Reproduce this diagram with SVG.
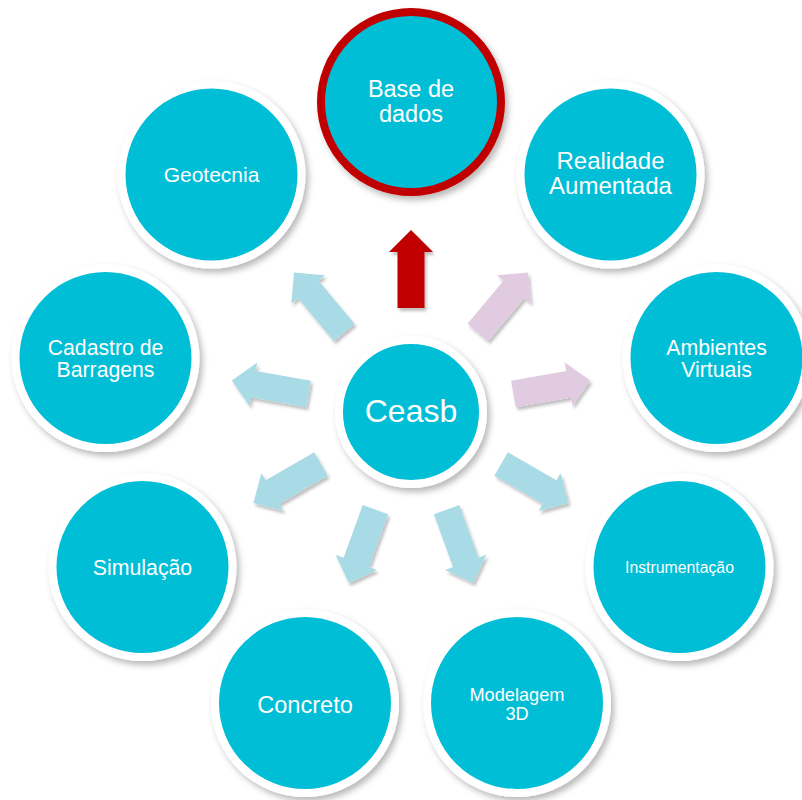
<svg xmlns="http://www.w3.org/2000/svg" xmlns:xlink="http://www.w3.org/1999/xlink" width="802" height="800" viewBox="0 0 802 800">
  <style>
    .node { fill: #02BED6; stroke: #FFFFFF; stroke-width: 8; }
    .node-hl { fill: #02BED6; stroke: #C00000; stroke-width: 8; }
    .label { font-family: "Liberation Sans", Arial, sans-serif; fill: #FFFFFF; text-anchor: middle; }
    .arr-blue { fill: #A9DBE6; }
    .arr-pink { fill: #E0CBE1; }
    .arr-red { fill: #C00000; }
  </style>
  <defs>
    <filter id="shadow" x="-20%" y="-20%" width="150%" height="150%">
      <feDropShadow dx="3" dy="4" stdDeviation="3" flood-color="#000000" flood-opacity="0.28"/>
    </filter>
    <filter id="arrShadow" x="-30%" y="-30%" width="160%" height="160%">
      <feDropShadow dx="2" dy="3" stdDeviation="1.6" flood-color="#000000" flood-opacity="0.25"/>
    </filter>
    <!-- block arrow pointing along +x, starting 104px from the hub centre -->
    <polygon id="arrow" points="104,-13.5 160,-13.5 160,-22 182,0 160,22 160,13.5 104,13.5"/>
  </defs>

  <rect width="802" height="800" fill="#FFFFFF"/>

  <!-- connectors: arrows radiating from the hub -->
  <g id="connectors">
    <g filter="url(#arrShadow)"><use xlink:href="#arrow" class="arr-red" transform="translate(411 412) rotate(-90)"/></g>
    <g filter="url(#arrShadow)"><use xlink:href="#arrow" class="arr-pink" transform="translate(411 412) rotate(-50)"/></g>
    <g filter="url(#arrShadow)"><use xlink:href="#arrow" class="arr-pink" transform="translate(411 412) rotate(-10)"/></g>
    <g filter="url(#arrShadow)"><use xlink:href="#arrow" class="arr-blue" transform="translate(411 412) rotate(30)"/></g>
    <g filter="url(#arrShadow)"><use xlink:href="#arrow" class="arr-blue" transform="translate(411 412) rotate(70)"/></g>
    <g filter="url(#arrShadow)"><use xlink:href="#arrow" class="arr-blue" transform="translate(411 412) rotate(110)"/></g>
    <g filter="url(#arrShadow)"><use xlink:href="#arrow" class="arr-blue" transform="translate(411 412) rotate(150)"/></g>
    <g filter="url(#arrShadow)"><use xlink:href="#arrow" class="arr-blue" transform="translate(411 412) rotate(190)"/></g>
    <g filter="url(#arrShadow)"><use xlink:href="#arrow" class="arr-blue" transform="translate(411 412) rotate(230)"/></g>
  </g>

  <!-- hub -->
  <g id="node-ceasb">
    <circle class="node" cx="411" cy="412" r="72" filter="url(#shadow)"/>
    <text class="label" x="411" y="422" font-size="32">Ceasb</text>
  </g>

  <!-- outer nodes -->
  <g id="node-base-de-dados">
    <circle class="node-hl" cx="411" cy="102" r="90" filter="url(#shadow)"/>
    <text class="label" x="411" y="97" font-size="23.5">Base de</text>
    <text class="label" x="411" y="122" font-size="23.5">dados</text>
  </g>

  <g id="node-realidade-aumentada">
    <circle class="node" cx="610.5" cy="174.5" r="90" filter="url(#shadow)"/>
    <text class="label" x="610.5" y="169" font-size="24">Realidade</text>
    <text class="label" x="610.5" y="194" font-size="24">Aumentada</text>
  </g>

  <g id="node-ambientes-virtuais">
    <circle class="node" cx="716.5" cy="358" r="90" filter="url(#shadow)"/>
    <text class="label" x="716.5" y="354.5" font-size="21.3">Ambientes</text>
    <text class="label" x="716.5" y="377" font-size="21.3">Virtuais</text>
  </g>

  <g id="node-instrumentacao">
    <circle class="node" cx="679.5" cy="567" r="90" filter="url(#shadow)"/>
    <text class="label" x="679.5" y="572.5" font-size="15.8">Instrumentação</text>
  </g>

  <g id="node-modelagem-3d">
    <circle class="node" cx="517" cy="703" r="90" filter="url(#shadow)"/>
    <text class="label" x="517" y="701" font-size="18.2">Modelagem</text>
    <text class="label" x="517" y="720" font-size="18.2">3D</text>
  </g>

  <g id="node-concreto">
    <circle class="node" cx="305" cy="703" r="90" filter="url(#shadow)"/>
    <text class="label" x="305" y="712.5" font-size="23.6">Concreto</text>
  </g>

  <g id="node-simulacao">
    <circle class="node" cx="142.5" cy="567" r="90" filter="url(#shadow)"/>
    <text class="label" x="142.5" y="574.5" font-size="21.3">Simulação</text>
  </g>

  <g id="node-cadastro-de-barragens">
    <circle class="node" cx="105.5" cy="358" r="90" filter="url(#shadow)"/>
    <text class="label" x="105.5" y="354.5" font-size="21.2">Cadastro de</text>
    <text class="label" x="105.5" y="377" font-size="21.2">Barragens</text>
  </g>

  <g id="node-geotecnia">
    <circle class="node" cx="211.5" cy="174.5" r="90" filter="url(#shadow)"/>
    <text class="label" x="211.5" y="181.5" font-size="21">Geotecnia</text>
  </g>
</svg>
